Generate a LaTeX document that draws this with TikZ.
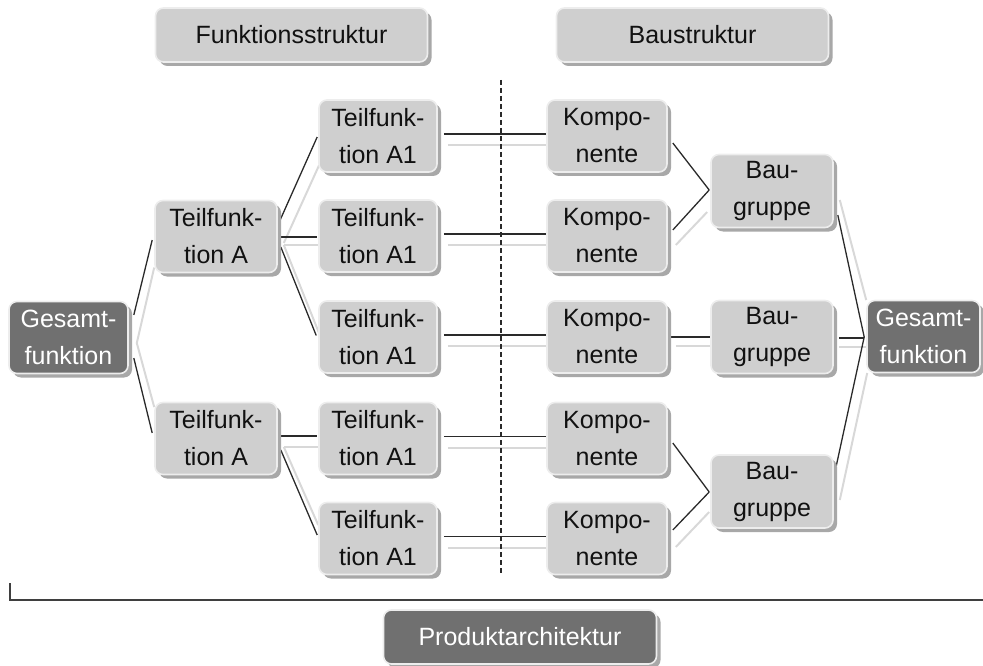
\documentclass[tikz,border=0pt]{standalone}
\usepackage{fontspec}
\setmainfont{Liberation Sans}
\usetikzlibrary{shadows}

\definecolor{boxfill}{HTML}{CFCFCF}
\definecolor{boxedge}{HTML}{EDEDED}
\definecolor{darkfill}{HTML}{707070}
\definecolor{shadowgray}{HTML}{A8A8A8}
\definecolor{wire}{HTML}{2A2A2A}
\definecolor{wirelight}{HTML}{D8D8D8}
\definecolor{inktext}{HTML}{111111}

\pgfdeclarelayer{wires}
\pgfsetlayers{wires,main}

\tikzset{
  base/.style={rounded corners=8pt, draw=boxedge, line width=1.6pt, align=center,
    inner sep=0pt, font=\fontsize{25}{37}\selectfont,
    drop shadow={shadow xshift=4pt, shadow yshift=-4pt, fill=shadowgray, opacity=1}},
  lightbox/.style={base, fill=boxfill, text=inktext},
  darkbox/.style={base, fill=darkfill, text=white},
  unit/.style={minimum width=118pt, minimum height=72pt},
  header/.style={minimum width=272pt, minimum height=54pt},
  wdark/.style={draw=wire, line width=1.3pt},
  wlight/.style={draw=wirelight, line width=2pt},
}

\begin{document}
\begin{tikzpicture}[x=1pt, y=-1pt]
  \useasboundingbox (0,0) rectangle (983,666);

  % column headers
  \node[lightbox, header] (hf) at (291.5,35) {Funktionsstruktur};
  \node[lightbox, header] (hb) at (692.5,35) {Baustruktur};

  % function structure
  \node[darkbox, unit, minimum width=119pt] (gl) at (68.5,337.5) {Gesamt-\\funktion};
  \node[lightbox, unit, minimum width=122pt] (ta) at (216,236.5) {Teilfunk-\\tion A};
  \node[lightbox, unit, minimum width=122pt] (tb) at (216,438.5) {Teilfunk-\\tion A};
  \node[lightbox, unit] (f1) at (378,136) {Teilfunk-\\tion A1};
  \node[lightbox, unit] (f2) at (378,236) {Teilfunk-\\tion A1};
  \node[lightbox, unit] (f3) at (378,337) {Teilfunk-\\tion A1};
  \node[lightbox, unit] (f4) at (378,438.5) {Teilfunk-\\tion A1};
  \node[lightbox, unit] (f5) at (378,538.5) {Teilfunk-\\tion A1};

  % physical structure
  \node[lightbox, unit, minimum width=120pt] (k1) at (607,136) {Kompo-\\nente};
  \node[lightbox, unit, minimum width=120pt] (k2) at (607,236) {Kompo-\\nente};
  \node[lightbox, unit, minimum width=120pt] (k3) at (607,337) {Kompo-\\nente};
  \node[lightbox, unit, minimum width=120pt] (k4) at (607,438.5) {Kompo-\\nente};
  \node[lightbox, unit, minimum width=120pt] (k5) at (607,538.5) {Kompo-\\nente};
  \node[lightbox, unit, minimum width=122pt, minimum height=73pt] (b1) at (772,191) {Bau-\\gruppe};
  \node[lightbox, unit, minimum width=122pt, minimum height=73pt] (b2) at (772,337) {Bau-\\gruppe};
  \node[lightbox, unit, minimum width=122pt, minimum height=73pt] (b3) at (772,491.5) {Bau-\\gruppe};
  \node[darkbox, unit, minimum width=113pt] (gr) at (923.5,336.5) {Gesamt-\\funktion};

  % overall label
  \node[darkbox, header, minimum width=273pt] (pa) at (520,637) {Produktarchitektur};

  \begin{pgfonlayer}{wires}
    % light companion lines
    \draw[wlight] ([shift={(8,5.5)}]gl.east) -- ([shift={(0,31)}]ta.west);
    \draw[wlight] ([shift={(8,5.5)}]gl.east) -- ([shift={(0,-31.5)}]tb.west);
    \draw[wlight] ([shift={(6,6.5)}]ta.east) -- ([shift={(1,29)}]f1.west);
    \draw[wlight] ([shift={(6,8.5)}]ta.east) -- ([shift={(0,9)}]f2.west);
    \draw[wlight] ([shift={(6,8.5)}]ta.east) -- ([shift={(1,-3.5)}]f3.west);
    \draw[wlight] ([shift={(6,8.5)}]tb.east) -- ([shift={(0,8.5)}]f4.west);
    \draw[wlight] ([shift={(6,8.5)}]tb.east) -- ([shift={(0,-13.5)}]f5.west);
    \foreach \f/\k in {f1/k1,f2/k2,f3/k3,f4/k4,f5/k5}
      \draw[wlight] ([shift={(10,9)}]\f.east) -- ([shift={(0,9)}]\k.west);
    \draw[wlight] ([shift={(8,9)}]k2.east) -- ([shift={(-3,21)}]b1.west);
    \draw[wlight] ([shift={(8,9)}]k3.east) -- ([shift={(0,9)}]b2.west);
    \draw[wlight] ([shift={(8,8.5)}]k5.east) -- ([shift={(-1,20.5)}]b3.west);
    \draw[wlight] ([shift={(6,9)}]b1.east) -- ([shift={(0,-36.5)}]gr.west);
    \draw[wlight] ([shift={(5,10)}]b2.east) -- ([shift={(0,10.5)}]gr.west);
    \draw[wlight] ([shift={(6,8.5)}]b3.east) -- ([shift={(1,36.5)}]gr.west);

    % dark connector lines
    \draw[wdark] ([shift={(5,-22.5)}]gl.east) -- ([shift={(-2,3.5)}]ta.west);
    \draw[wdark] ([shift={(5,20.5)}]gl.east) -- ([shift={(-2,-5.5)}]tb.west);
    \draw[wdark] ([shift={(1,-13.5)}]ta.east) -- ([shift={(-1,1)}]f1.west);
    \draw[wdark] ([shift={(1,0.5)}]ta.east) -- ([shift={(-1,1)}]f2.west);
    \draw[wdark] ([shift={(3,10.5)}]ta.east) -- ([shift={(-2,-1.5)}]f3.west);
    \draw[wdark] ([shift={(1,-2.5)}]tb.east) -- ([shift={(-1,-2.5)}]f4.west);
    \draw[wdark] ([shift={(3,11.5)}]tb.east) -- ([shift={(-1,-3.5)}]f5.west);
    \foreach \f/\k in {f1/k1,f2/k2,f3/k3,f4/k4,f5/k5}
      \draw[wdark] ([shift={(6,-2)}]\f.east) -- ([shift={(0,-2)}]\k.west);
    \draw[wdark] ([shift={(5,7)}]k1.east) -- ([shift={(-1,-1)}]b1.west);
    \draw[wdark] ([shift={(5,-6)}]k2.east) -- ([shift={(-1,-1)}]b1.west);
    \draw[wdark] ([shift={(3,0)}]k3.east) -- ([shift={(0,0)}]b2.west);
    \draw[wdark] ([shift={(5,4.5)}]k4.east) -- ([shift={(-1,0.5)}]b3.west);
    \draw[wdark] ([shift={(5,-8.5)}]k5.east) -- ([shift={(-1,0.5)}]b3.west);
    \draw[wdark] ([shift={(4,24)}]b1.east) -- ([shift={(-2,0.5)}]gr.west);
    \draw[wdark] ([shift={(5,1)}]b2.east) -- ([shift={(-2,1.5)}]gr.west);
    \draw[wdark] ([shift={(2,-23.5)}]b3.east) -- ([shift={(-2,0.5)}]gr.west);

    % divider between the two structures
    \coordinate (dtop) at (501,80);
    \coordinate (dbot) at (501,573);
    \draw[wire, line width=1.1pt, dash pattern=on 5pt off 3pt] (dtop) -- (dbot);
  \end{pgfonlayer}

  % bracket spanning the whole architecture
  \coordinate (bl) at (10,583);
  \coordinate (bc) at (10,600);
  \coordinate (br) at (983,600);
  \draw[draw=wire!90, line width=1.4pt] (bl) -- (bc) -- (br);
\end{tikzpicture}
\end{document}
